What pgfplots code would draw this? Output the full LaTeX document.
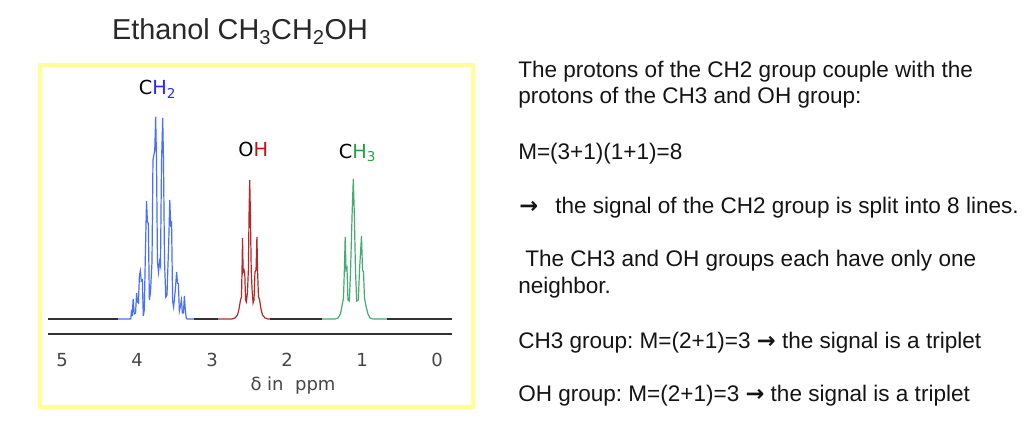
\documentclass[border=0pt]{standalone}
\usepackage{fontspec}
\setmainfont{Liberation Sans}
\newfontfamily\dejavu{DejaVu Sans}
\usepackage{pgfplots}
\pgfplotsset{compat=1.18}
\frenchspacing
\definecolor{specblue}{RGB}{72,112,250}
\definecolor{specred}{RGB}{180,40,40}
\definecolor{specgreen}{RGB}{70,170,115}
\definecolor{labblue}{RGB}{40,40,255}
\definecolor{labred}{RGB}{190,20,20}
\definecolor{labgreen}{RGB}{40,160,70}
\definecolor{boxyellow}{RGB}{255,255,150}
\definecolor{basegray}{RGB}{50,50,50}
\definecolor{ticktext}{RGB}{70,70,70}
\definecolor{bodytext}{RGB}{20,20,20}
\definecolor{titletext}{RGB}{40,40,40}
\newcommand{\arr}{{\dejavu\bfseries →}}

\pgfplotstableread{
ppm h
4.253 0
4.083 0
4.073 9
4.064 3
4.051 20
4.037 5
4.019 6
4.005 26
3.995 17
3.981 16
3.968 43
3.956 48
3.943 38
3.929 39
3.916 3
3.903 9
3.887 69
3.873 118
3.861 97
3.849 96
3.835 19
3.820 27
3.800 57
3.787 159
3.763 169
3.751 202
3.740 159
3.727 57
3.713 47
3.700 57
3.687 53
3.673 157
3.657 201
3.647 159
3.633 57
3.616 22
3.600 24
3.576 79
3.563 119
3.551 94
3.539 96
3.525 18
3.512 12
3.489 29
3.472 47
3.460 36
3.448 35
3.435 8
3.421 13
3.408 19
3.395 6
3.381 6
3.368 23
3.356 9
3.343 1
3.333 0
3.240 0
}\chtwo

\pgfplotstableread{
ppm h
2.920 0
2.733 0
2.693 1
2.660 4
2.640 10
2.620 19
2.607 22
2.600 47
2.593 81
2.585 47
2.573 49
2.563 45
2.552 19
2.541 17
2.527 27
2.515 49
2.505 109
2.497 139
2.489 109
2.477 49
2.464 27
2.452 16
2.440 19
2.427 47
2.413 49
2.401 82
2.392 47
2.380 22
2.367 20
2.347 10
2.327 4
2.293 1
2.253 0
2.227 0
}\ohgroup

\pgfplotstableread{
ppm h
1.533 0
1.360 0
1.320 1
1.287 5
1.267 13
1.247 21
1.235 49
1.224 82
1.213 49
1.200 51
1.187 19
1.169 18
1.153 47
1.131 107
1.116 140
1.103 107
1.087 49
1.071 18
1.049 19
1.033 49
1.007 83
0.993 49
0.980 47
0.967 21
0.947 13
0.920 5
0.893 1
0.853 0
0.667 0
}\chthree

\begin{document}
\begin{tikzpicture}[x=0.75pt,y=0.75pt]
\useasboundingbox (0,0) rectangle (1026,427);
\fill[white] (0,0) rectangle (1026,427);
\draw[boxyellow, line width=3pt] (40,362) rectangle (473,20);
\begin{axis}[
  at={(36pt,69.75pt)}, anchor=south west,
  scale only axis, width=303pt, height=175.5pt,
  x dir=reverse, xmin=-0.2, xmax=5.1867, ymin=-15, ymax=219,
  axis x line*=bottom, axis y line=none,
  axis line style={-, line width=1.2pt, color=basegray},
  xtick={0,1,2,3,4,5}, major tick length=0pt,
  xticklabel style={font=\dejavu\fontsize{13.5pt}{13.5pt}\selectfont, text=ticktext, anchor=base, yshift=-24.5pt},
  /pgf/number format/assume math mode=true,
  clip=false,
]
\addplot[basegray, line width=1pt] coordinates {(5.187,0) (4.253,0)};
\addplot[basegray, line width=1pt] coordinates {(3.240,0) (2.920,0)};
\addplot[basegray, line width=1pt] coordinates {(2.227,0) (1.533,0)};
\addplot[basegray, line width=1pt] coordinates {(0.667,0) (-0.2,0)};
\addplot[specblue, line width=0.9pt] table[x=ppm, y=h] {\chtwo};
\addplot[specred, line width=0.9pt] table[x=ppm, y=h] {\ohgroup};
\addplot[specgreen, line width=0.9pt] table[x=ppm, y=h] {\chthree};
\end{axis}
% axis title and peak labels
\node[anchor=base, inner sep=0, text=ticktext, font=\dejavu\fontsize{13.5pt}{13.5pt}\selectfont] at (293,36.5) {δ in\ \ ppm};
\node[anchor=base, inner sep=0, font=\dejavu\fontsize{14.5pt}{14.5pt}\selectfont] at (157.5,332) {C\textcolor{labblue}{H\textsubscript{2}}};
\node[anchor=base, inner sep=0, font=\dejavu\fontsize{14.5pt}{14.5pt}\selectfont] at (253.3,270.3) {O\textcolor{labred}{H}};
\node[anchor=base, inner sep=0, font=\dejavu\fontsize{14.5pt}{14.5pt}\selectfont] at (357.5,268.7) {C\textcolor{labgreen}{H\textsubscript{3}}};
% title
\node[anchor=base, inner sep=0, text=titletext, font=\fontsize{21.6pt}{21.6pt}\selectfont] at (240,387) {Ethanol CH\textsubscript{3}CH\textsubscript{2}OH};
% right text
\begin{scope}[every node/.style={anchor=base west, inner sep=0, text=bodytext, font=\fontsize{16.9pt}{19pt}\selectfont}]
\node at (518,349.7) {The protons of the CH2 group couple with the};
\node at (518,323) {protons of the CH3 and OH group:};
\node at (518,267.7) {M=(3+1)(1+1)=8};
\node at (519,213.7) {\arr};
\node at (555,213.7) {the signal of the CH2 group is split into 8 lines.};
\node at (525,160.3) {The CH3 and OH groups each have only one};
\node at (518,133.7) {neighbor.};
\node at (518,78.7) {CH3 group: M=(2+1)=3 \arr{} the signal is a triplet};
\node at (518,25.3) {OH group: M=(2+1)=3 \arr{} the signal is a triplet};
\end{scope}
\end{tikzpicture}
\end{document}
